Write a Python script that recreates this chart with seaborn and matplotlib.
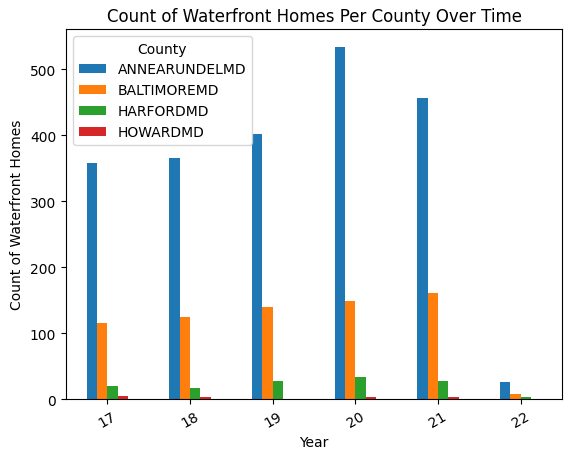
import matplotlib
matplotlib.use("Agg")
import matplotlib.pyplot as plt
import seaborn as sns
import pandas as pd

years = ["17", "18", "19", "20", "21", "22"]
counties = ["ANNEARUNDELMD", "BALTIMOREMD", "HARFORDMD", "HOWARDMD"]
annearundel = [358, 365, 402, 534, 457, 26]
baltimore = [116, 125, 140, 148, 160, 7]
harford = [20, 16, 28, 33, 28, 3]
howard = [5, 3, 0, 3, 3, 0]

rows = []
for name, vals in zip(counties, [annearundel, baltimore, harford, howard]):
    for y, v in zip(years, vals):
        rows.append({"Year": y, "County": name, "Count": v})
df = pd.DataFrame(rows)

fig = plt.figure(figsize=(5.71, 4.6), dpi=100)
ax = fig.add_axes([0.1156, 0.1304, 0.8687, 0.8043])
sns.barplot(data=df, x="Year", y="Count", hue="County", order=years,
            hue_order=counties, palette=["#1f77b4", "#ff7f0e", "#2ca02c", "#d62728"],
            width=0.5, saturation=1, linewidth=0, ax=ax, errorbar=None)
ax.set_title("Count of Waterfront Homes Per County Over Time")
ax.set_xlabel("Year")
ax.set_ylabel("Count of Waterfront Homes")
ax.set_xlim(-0.5, 5.5)
ax.set_ylim(0, 561)
plt.setp(ax.get_xticklabels(), rotation=30)
ax.legend(title="County", loc="upper left")
fig.savefig("out.png", dpi=100)
